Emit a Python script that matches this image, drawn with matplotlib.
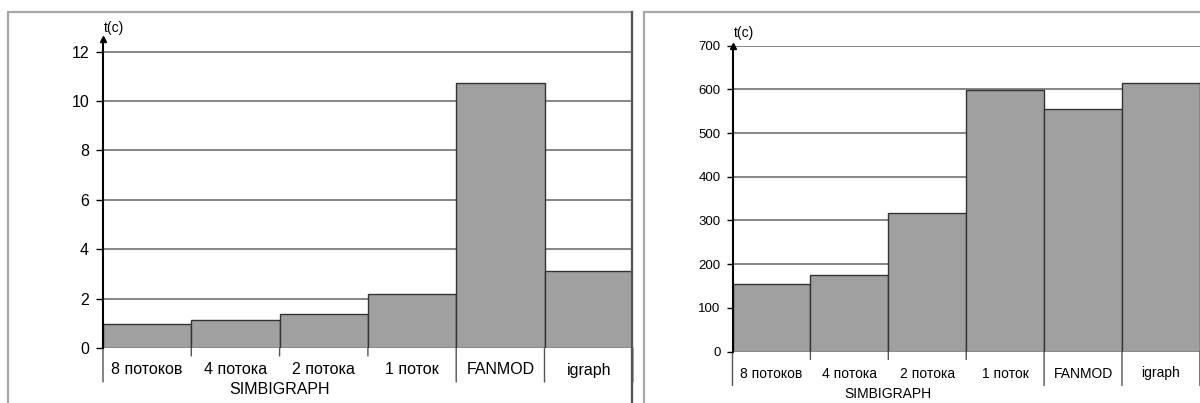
import matplotlib.pyplot as plt
import matplotlib.transforms as mtransforms
from matplotlib.patches import Rectangle

plt.rcParams['font.family'] = ['Liberation Sans', 'DejaVu Sans']

# данные
categories = ['8 потоков', '4 потока', '2 потока', '1 поток', 'FANMOD', 'igraph']
group_label = 'SIMBIGRAPH'
times_left = [0.97, 1.14, 1.38, 2.19, 10.72, 3.13]
times_right = [154, 174, 316, 598, 555, 614]
yticks_left = [0, 2, 4, 6, 8, 10, 12]
yticks_right = [0, 100, 200, 300, 400, 500, 600, 700]

W, H = 1200, 403
fig = plt.figure(figsize=(W / 100, H / 100), dpi=100)


def px_box(x0, x1, ytop, ybot):
    """прямоугольник в пикселях -> доли фигуры"""
    return [x0 / W, (H - ybot) / H, (x1 - x0) / W, (ybot - ytop) / H]


def sep_line(ax, xs, depth):
    """вертикальный разделитель под осью X"""
    ax.annotate('', xy=(xs, 0), xycoords=ax.get_xaxis_transform(),
                xytext=(0, -depth), textcoords='offset pixels',
                arrowprops=dict(arrowstyle='-', color='#555555', lw=1,
                                shrinkA=0, shrinkB=0))


def draw_panel(rect, values, yticks, ytop, xright, fs_tick, fs_cat, tick_len, pad, tc_dy):
    ax = fig.add_axes(rect)
    x = list(range(len(values)))
    ax.bar(x, values, width=1, align='edge', color='#a0a0a0',
           edgecolor='#333333', linewidth=1, zorder=3)
    for t in yticks:
        ax.axhline(t, color='#858585', lw=1.4, zorder=1)
    ax.set_xlim(0, xright)
    ax.set_ylim(0, ytop)
    for s in ['top', 'right', 'bottom']:
        ax.spines[s].set_visible(False)
    ax.spines['left'].set_linewidth(1.5)
    ax.spines['left'].set_zorder(4)
    ax.plot(0, ytop, marker='^', ms=4, color='black', clip_on=False, zorder=5)
    ax.annotate('t(c)', xy=(0, ytop), xycoords='data', xytext=(1, tc_dy),
                textcoords='offset pixels', fontsize=10, ha='left', va='center')
    ax.set_yticks(yticks)
    ax.tick_params(axis='y', length=tick_len, width=1, pad=pad, labelsize=fs_tick)
    ax.set_xticks([])

    # подписи категорий
    trans = ax.get_xaxis_transform()
    for i, c in enumerate(categories):
        ax.text(i + 0.5, 0, c, transform=mtransforms.offset_copy(trans, fig=fig, y=-22, units='dots'),
                ha='center', va='center', fontsize=fs_cat)
    ax.text(2, 0, group_label, transform=mtransforms.offset_copy(trans, fig=fig, y=-42, units='dots'),
            ha='center', va='center', fontsize=fs_cat)
    for xs in [0, 4, 5, 6]:
        sep_line(ax, xs, 34)
    for xs in [1, 2, 3]:
        sep_line(ax, xs, 8)
    return ax


# левая панель: ось 0 на y=348, 12 на y=51.7 (пиксели)
px_per_unit_l = (348 - 51.7) / 12
top_l = 12 + (51.7 - 39) / px_per_unit_l
ax1 = draw_panel(px_box(103, 632, 39, 348), times_left, yticks_left, top_l,
                 (632 - 103) / 88.3, 11.5, 11.5, 5, 5, 11)

# правая панель: 0 на y=351.5, 700 на y=45.7
ax2 = draw_panel(px_box(732.5, 1200, 45.7, 351.5), times_right, yticks_right, 700,
                 (1200 - 732.5) / 77.9, 9.5, 10, 4, 4.5, 13)

# рамки
fig.patches.append(Rectangle((8 / W, -0.1), (632 - 8) / W, 1.1 - 11.7 / H,
                             transform=fig.transFigure, fill=False,
                             edgecolor='#a8a8a8', lw=1.6))
fig.lines.append(plt.Line2D([632 / W, 632 / W], [-0.1, 1 - 11.7 / H],
                            transform=fig.transFigure, color='#555555', lw=1.6))
fig.patches.append(Rectangle((644 / W, -0.1), 0.5, 1.1 - 11.7 / H,
                             transform=fig.transFigure, fill=False,
                             edgecolor='#a8a8a8', lw=1.6))

fig.savefig('out.png', dpi=100)
